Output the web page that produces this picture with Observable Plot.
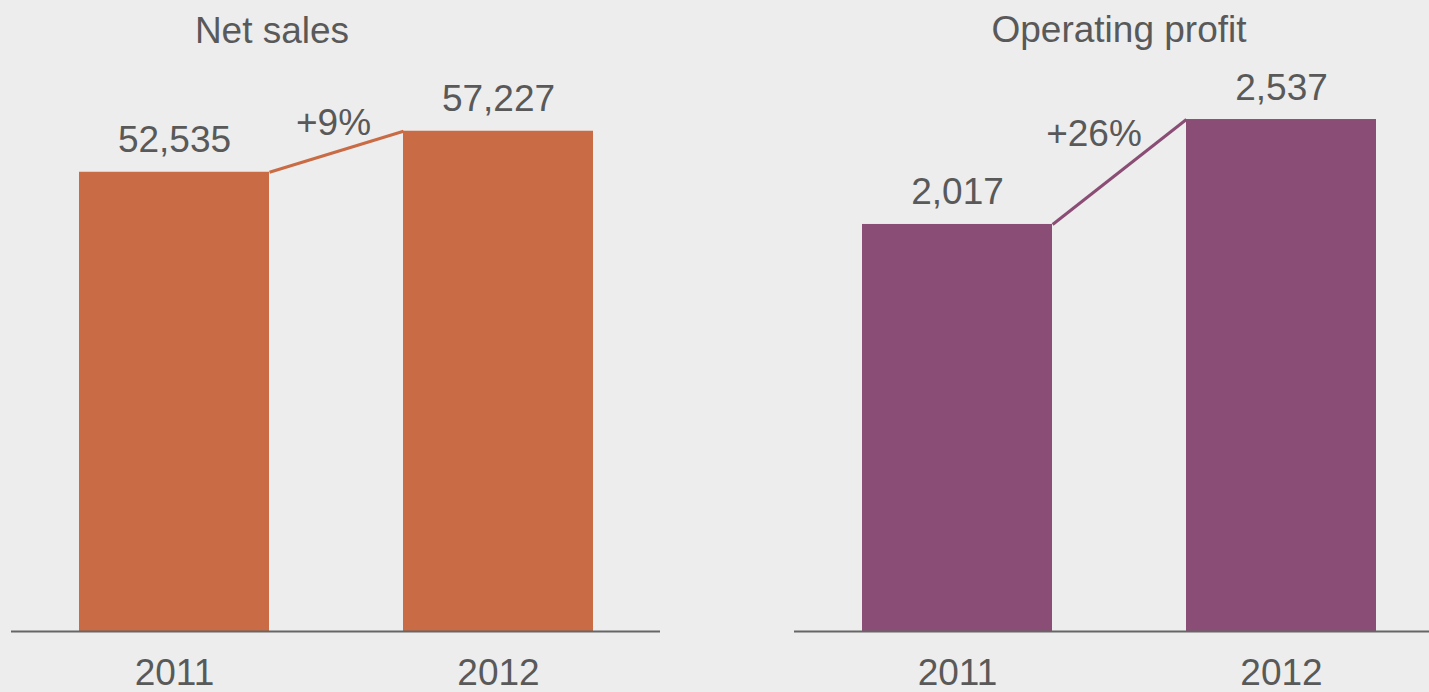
<!DOCTYPE html>
<html>
<head>
<meta charset="utf-8">
<script src="https://cdn.jsdelivr.net/npm/d3@7"></script>
<script src="https://cdn.jsdelivr.net/npm/@observablehq/plot@0.6"></script>
<style>
  html, body { margin: 0; padding: 0; background: #ededed; }
  #wrap { position: relative; width: 1429px; height: 692px; overflow: hidden; background: #ededed;
          font-family: "Liberation Sans", Arial, Helvetica, sans-serif; color: #595959; }
  .panel { position: absolute; top: 0; }
  .title { position: absolute; width: 500px; text-align: center; font-size: 37px; line-height: 37px; white-space: nowrap; }
</style>
</head>
<body>
<div id="wrap"></div>
<script>
// ---- data ----
const years = ["2011", "2012"];
const netSales = [52535, 57227];
const operatingProfit = [2017, 2537];
const changeLabels = ["+9%", "+26%"];
const panelTitles = ["Net sales", "Operating profit"];

// ---- layout / style ----
const TEXT = "#595959";
const FONT = "Liberation Sans, Arial, Helvetica, sans-serif";
const panels = [
  {values: netSales, change: changeLabels[0], title: panelTitles[0], color: "#c96c45",
   left: 0, width: 700, marginLeft: 11, marginRight: 40, yMax: 60000, marginTop: 106.5,
   chgDx: -165, chgDy: 4, titleCenter: 272, titleTop: 12},
  {values: operatingProfit, change: changeLabels[1], title: panelTitles[1], color: "#8a4d75",
   left: 714, width: 730, marginLeft: 80, marginRight: 0, yMax: 3000, marginTop: 25.6,
   chgDx: -187.5, chgDy: 26, titleCenter: 1119, titleTop: 11}
];
const HEIGHT = 692, MB = 61;
const PI = 0.4136, PO = 0.2083;

// curve that moves a link's ends from the band centres to the facing bar corners
function cornerCurve(half) {
  return (context) => {
    let i = 0;
    return {
      areaStart() {}, areaEnd() {},
      lineStart() { i = 0; },
      lineEnd() {},
      point(x, y) {
        if (i === 0) context.moveTo(x + half, y);
        else context.lineTo(x - half, y);
        i++;
      }
    };
  };
}

const wrap = document.getElementById("wrap");
for (const p of panels) {
  const data = years.map((year, i) => ({year, value: p.values[i]}));
  const bw = d3.scaleBand().domain(years)
    .range([p.marginLeft, p.width - p.marginRight])
    .paddingInner(PI).paddingOuter(PO).bandwidth();
  const chart = Plot.plot({
    width: p.width,
    height: HEIGHT,
    marginLeft: p.marginLeft,
    marginRight: p.marginRight,
    marginTop: p.marginTop,
    marginBottom: MB,
    style: {background: "transparent", fontFamily: FONT, fontSize: "37px", color: TEXT, overflow: "visible"},
    x: {domain: years, paddingInner: PI, paddingOuter: PO, align: 0.5, tickSize: 0, tickPadding: 27, label: null},
    y: {domain: [0, p.yMax], axis: null},
    marks: [
      Plot.barY(data, {x: "year", y: "value", fill: p.color}),
      Plot.ruleY([0], {stroke: "#666666", strokeWidth: 2}),
      Plot.link([{x1: years[0], y1: p.values[0], x2: years[1], y2: p.values[1]}], {
        x1: "x1", y1: "y1", x2: "x2", y2: "y2", stroke: p.color, strokeWidth: 3,
        curve: cornerCurve(bw / 2)
      }),
      Plot.text(data, {x: "year", y: "value", text: d => d3.format(",")(d.value),
        lineAnchor: "bottom", dy: -20, fill: TEXT, fontSize: 37}),
      Plot.text([{year: years[1], value: p.values[1], label: p.change}], {x: "year", y: "value", text: "label",
        lineAnchor: "bottom", dx: p.chgDx, dy: p.chgDy, fill: TEXT, fontSize: 37})
    ]
  });
  chart.classList.add("panel");
  chart.style.left = p.left + "px";
  wrap.appendChild(chart);

  const t = document.createElement("div");
  t.className = "title";
  t.textContent = p.title;
  t.style.left = (p.titleCenter - 250) + "px";
  t.style.top = p.titleTop + "px";
  wrap.appendChild(t);
}
</script>
</body>
</html>
